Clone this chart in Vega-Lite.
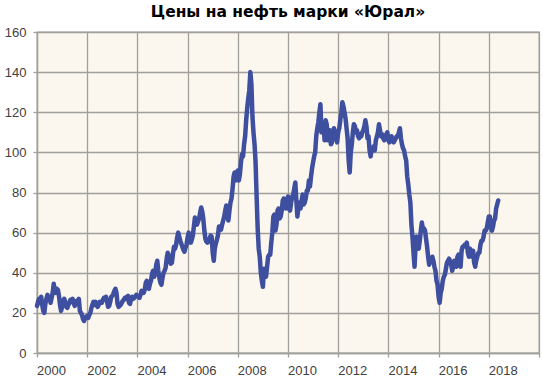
{
"$schema": "https://vega.github.io/schema/vega-lite/v6.json",
"width": 502, "height": 321,
"autosize": "none",
"padding": {"left": 37, "top": 32, "right": 4, "bottom": 30},
"background": "white",
"title": {"text": "Цены на нефть марки «Юрал»", "font": "DejaVu Sans", "fontSize": 15.5, "fontWeight": "bold", "color": "#000000", "anchor": "middle", "frame": "group", "offset": 6},
"config": {
  "view": {"fill": "#FBF6EE", "stroke": "#A0A09C", "strokeWidth": 1.3},
  "axis": {"gridColor": "#A0A09C", "gridWidth": 1.3, "gridOpacity": 1, "domainColor": "#A0A09C", "domainWidth": 1.3, "tickColor": "#A0A09C", "tickWidth": 1.3, "tickSize": 4, "labelFont": "Liberation Sans", "labelFontSize": 13, "labelColor": "#404040", "title": null}
},
"data": {"values": [
{"t":2000,"p":23.5},{"t":2000.042,"p":25.5},{"t":2000.083,"p":27},{"t":2000.125,"p":25},{"t":2000.167,"p":28},{"t":2000.208,"p":24},{"t":2000.25,"p":21},{"t":2000.292,"p":20},{"t":2000.333,"p":24.5},{"t":2000.375,"p":27},{"t":2000.417,"p":29},{"t":2000.458,"p":26.5},{"t":2000.5,"p":28},{"t":2000.542,"p":25},{"t":2000.583,"p":27.5},{"t":2000.625,"p":30},{"t":2000.667,"p":34.5},{"t":2000.708,"p":31},{"t":2000.75,"p":30},{"t":2000.792,"p":32},{"t":2000.833,"p":31.5},{"t":2000.875,"p":28.5},{"t":2000.917,"p":24},{"t":2000.958,"p":21},
{"t":2001,"p":23},{"t":2001.042,"p":26},{"t":2001.083,"p":27},{"t":2001.125,"p":25.5},{"t":2001.167,"p":23},{"t":2001.208,"p":22.5},{"t":2001.25,"p":24},{"t":2001.292,"p":25},{"t":2001.333,"p":26.5},{"t":2001.375,"p":25.5},{"t":2001.417,"p":27},{"t":2001.458,"p":25},{"t":2001.5,"p":23.5},{"t":2001.542,"p":24.5},{"t":2001.583,"p":26},{"t":2001.625,"p":24.5},{"t":2001.667,"p":27},{"t":2001.708,"p":21},{"t":2001.75,"p":20},{"t":2001.792,"p":19},{"t":2001.833,"p":17},{"t":2001.875,"p":16},{"t":2001.917,"p":17.5},{"t":2001.958,"p":18},
{"t":2002,"p":18.5},{"t":2002.042,"p":17.5},{"t":2002.083,"p":19},{"t":2002.125,"p":20},{"t":2002.167,"p":22.5},{"t":2002.208,"p":24},{"t":2002.25,"p":25.5},{"t":2002.292,"p":24},{"t":2002.333,"p":25.5},{"t":2002.375,"p":24},{"t":2002.417,"p":23},{"t":2002.458,"p":24},{"t":2002.5,"p":25.5},{"t":2002.542,"p":25},{"t":2002.583,"p":25},{"t":2002.625,"p":26.5},{"t":2002.667,"p":27.5},{"t":2002.708,"p":27},{"t":2002.75,"p":28},{"t":2002.792,"p":25.5},{"t":2002.833,"p":23},{"t":2002.875,"p":23.5},{"t":2002.917,"p":25.5},{"t":2002.958,"p":28},
{"t":2003,"p":28.5},{"t":2003.042,"p":29.5},{"t":2003.083,"p":31},{"t":2003.125,"p":32},{"t":2003.167,"p":30},{"t":2003.208,"p":24.5},{"t":2003.25,"p":23},{"t":2003.292,"p":23.5},{"t":2003.333,"p":24},{"t":2003.375,"p":25},{"t":2003.417,"p":26},{"t":2003.458,"p":26.5},{"t":2003.5,"p":27.5},{"t":2003.542,"p":27},{"t":2003.583,"p":28},{"t":2003.625,"p":28.5},{"t":2003.667,"p":25},{"t":2003.708,"p":24.5},{"t":2003.75,"p":27},{"t":2003.792,"p":28},{"t":2003.833,"p":27},{"t":2003.875,"p":27.5},{"t":2003.917,"p":28},{"t":2003.958,"p":29},
{"t":2004,"p":28.5},{"t":2004.042,"p":28},{"t":2004.083,"p":27.5},{"t":2004.125,"p":29},{"t":2004.167,"p":31},{"t":2004.208,"p":30.5},{"t":2004.25,"p":30},{"t":2004.292,"p":31.5},{"t":2004.333,"p":35},{"t":2004.375,"p":36},{"t":2004.417,"p":33},{"t":2004.458,"p":32},{"t":2004.5,"p":34.5},{"t":2004.542,"p":36},{"t":2004.583,"p":39.5},{"t":2004.625,"p":41},{"t":2004.667,"p":38},{"t":2004.708,"p":39.5},{"t":2004.75,"p":44},{"t":2004.792,"p":46},{"t":2004.833,"p":41},{"t":2004.875,"p":37.5},{"t":2004.917,"p":35},{"t":2004.958,"p":34},
{"t":2005,"p":37.5},{"t":2005.042,"p":40},{"t":2005.083,"p":41},{"t":2005.125,"p":42.5},{"t":2005.167,"p":47},{"t":2005.208,"p":50},{"t":2005.25,"p":48.5},{"t":2005.292,"p":46},{"t":2005.333,"p":44.5},{"t":2005.375,"p":45},{"t":2005.417,"p":49.5},{"t":2005.458,"p":53},{"t":2005.5,"p":52},{"t":2005.542,"p":54},{"t":2005.583,"p":57.5},{"t":2005.625,"p":60},{"t":2005.667,"p":58},{"t":2005.708,"p":56},{"t":2005.75,"p":54.5},{"t":2005.792,"p":53},{"t":2005.833,"p":51.5},{"t":2005.875,"p":50.5},{"t":2005.917,"p":52.5},{"t":2005.958,"p":54},
{"t":2006,"p":57.5},{"t":2006.042,"p":60},{"t":2006.083,"p":57},{"t":2006.125,"p":55},{"t":2006.167,"p":56.5},{"t":2006.208,"p":58.5},{"t":2006.25,"p":63},{"t":2006.292,"p":67.5},{"t":2006.333,"p":66},{"t":2006.375,"p":64},{"t":2006.417,"p":65.5},{"t":2006.458,"p":67},{"t":2006.5,"p":70},{"t":2006.542,"p":72.5},{"t":2006.583,"p":70.5},{"t":2006.625,"p":67},{"t":2006.667,"p":61},{"t":2006.708,"p":57},{"t":2006.75,"p":55.5},{"t":2006.792,"p":55},{"t":2006.833,"p":55.5},{"t":2006.875,"p":57},{"t":2006.917,"p":58.5},{"t":2006.958,"p":58},
{"t":2007,"p":50},{"t":2007.042,"p":46},{"t":2007.083,"p":52},{"t":2007.125,"p":54.5},{"t":2007.167,"p":56.5},{"t":2007.208,"p":58.5},{"t":2007.25,"p":63},{"t":2007.292,"p":62},{"t":2007.333,"p":61.5},{"t":2007.375,"p":64},{"t":2007.417,"p":66},{"t":2007.458,"p":68},{"t":2007.5,"p":71},{"t":2007.542,"p":73.5},{"t":2007.583,"p":68.5},{"t":2007.625,"p":66},{"t":2007.667,"p":71},{"t":2007.708,"p":75},{"t":2007.75,"p":77},{"t":2007.792,"p":82},{"t":2007.833,"p":88},{"t":2007.875,"p":90},{"t":2007.917,"p":86},{"t":2007.958,"p":89},
{"t":2008,"p":91},{"t":2008.042,"p":86},{"t":2008.083,"p":89},{"t":2008.125,"p":95},{"t":2008.167,"p":99},{"t":2008.208,"p":98},{"t":2008.25,"p":104},{"t":2008.292,"p":108},{"t":2008.333,"p":116},{"t":2008.375,"p":122},{"t":2008.417,"p":127},{"t":2008.458,"p":131},{"t":2008.5,"p":140},{"t":2008.542,"p":134},{"t":2008.583,"p":118},{"t":2008.625,"p":110},{"t":2008.667,"p":104},{"t":2008.708,"p":95},{"t":2008.75,"p":78},{"t":2008.792,"p":62},{"t":2008.833,"p":52},{"t":2008.875,"p":48},{"t":2008.917,"p":40},{"t":2008.958,"p":36},
{"t":2009,"p":33},{"t":2009.042,"p":42},{"t":2009.083,"p":41},{"t":2009.125,"p":38},{"t":2009.167,"p":43},{"t":2009.208,"p":48},{"t":2009.25,"p":49},{"t":2009.292,"p":49},{"t":2009.333,"p":55},{"t":2009.375,"p":60},{"t":2009.417,"p":68},{"t":2009.458,"p":69},{"t":2009.5,"p":61},{"t":2009.542,"p":64},{"t":2009.583,"p":71},{"t":2009.625,"p":72},{"t":2009.667,"p":67},{"t":2009.708,"p":68},{"t":2009.75,"p":71},{"t":2009.792,"p":76},{"t":2009.833,"p":77},{"t":2009.875,"p":76},{"t":2009.917,"p":72},{"t":2009.958,"p":75},
{"t":2010,"p":78},{"t":2010.042,"p":72},{"t":2010.083,"p":71},{"t":2010.125,"p":75},{"t":2010.167,"p":78},{"t":2010.208,"p":79},{"t":2010.25,"p":82},{"t":2010.292,"p":85},{"t":2010.333,"p":76},{"t":2010.375,"p":68},{"t":2010.417,"p":73},{"t":2010.458,"p":75},{"t":2010.5,"p":72},{"t":2010.542,"p":76},{"t":2010.583,"p":79},{"t":2010.625,"p":74},{"t":2010.667,"p":75},{"t":2010.708,"p":77},{"t":2010.75,"p":81},{"t":2010.792,"p":81},{"t":2010.833,"p":86},{"t":2010.875,"p":83},{"t":2010.917,"p":88},{"t":2010.958,"p":92},
{"t":2011,"p":95},{"t":2011.042,"p":98},{"t":2011.083,"p":100},{"t":2011.125,"p":108},{"t":2011.167,"p":112},{"t":2011.208,"p":115},{"t":2011.25,"p":120},{"t":2011.292,"p":124},{"t":2011.333,"p":110},{"t":2011.375,"p":114},{"t":2011.417,"p":113},{"t":2011.458,"p":106},{"t":2011.5,"p":116},{"t":2011.542,"p":114},{"t":2011.583,"p":106},{"t":2011.625,"p":108},{"t":2011.667,"p":111},{"t":2011.708,"p":104},{"t":2011.75,"p":105},{"t":2011.792,"p":110},{"t":2011.833,"p":112},{"t":2011.875,"p":109},{"t":2011.917,"p":107},{"t":2011.958,"p":105},
{"t":2012,"p":110},{"t":2012.042,"p":112},{"t":2012.083,"p":116},{"t":2012.125,"p":120},{"t":2012.167,"p":125},{"t":2012.208,"p":123},{"t":2012.25,"p":120},{"t":2012.292,"p":117},{"t":2012.333,"p":112},{"t":2012.375,"p":107},{"t":2012.417,"p":96},{"t":2012.458,"p":90},{"t":2012.5,"p":100},{"t":2012.542,"p":104},{"t":2012.583,"p":110},{"t":2012.625,"p":114},{"t":2012.667,"p":113},{"t":2012.708,"p":110},{"t":2012.75,"p":111},{"t":2012.792,"p":108},{"t":2012.833,"p":107},{"t":2012.875,"p":109},{"t":2012.917,"p":108},{"t":2012.958,"p":110},
{"t":2013,"p":111},{"t":2013.042,"p":113},{"t":2013.083,"p":116},{"t":2013.125,"p":113},{"t":2013.167,"p":107},{"t":2013.208,"p":108},{"t":2013.25,"p":101},{"t":2013.292,"p":98},{"t":2013.333,"p":102},{"t":2013.375,"p":101},{"t":2013.417,"p":103},{"t":2013.458,"p":101},{"t":2013.5,"p":106},{"t":2013.542,"p":108},{"t":2013.583,"p":110},{"t":2013.625,"p":114},{"t":2013.667,"p":111},{"t":2013.708,"p":108},{"t":2013.75,"p":109},{"t":2013.792,"p":107},{"t":2013.833,"p":106},{"t":2013.875,"p":108},{"t":2013.917,"p":109},{"t":2013.958,"p":110},
{"t":2014,"p":106},{"t":2014.042,"p":105},{"t":2014.083,"p":107},{"t":2014.125,"p":108},{"t":2014.167,"p":106},{"t":2014.208,"p":105},{"t":2014.25,"p":106},{"t":2014.292,"p":107},{"t":2014.333,"p":108},{"t":2014.375,"p":108},{"t":2014.417,"p":110},{"t":2014.458,"p":112},{"t":2014.5,"p":107},{"t":2014.542,"p":104},{"t":2014.583,"p":102},{"t":2014.625,"p":101},{"t":2014.667,"p":98},{"t":2014.708,"p":96},{"t":2014.75,"p":88},{"t":2014.792,"p":84},{"t":2014.833,"p":79},{"t":2014.875,"p":75},{"t":2014.917,"p":64},{"t":2014.958,"p":58},
{"t":2015,"p":50},{"t":2015.042,"p":43},{"t":2015.083,"p":54},{"t":2015.125,"p":58},{"t":2015.167,"p":56},{"t":2015.208,"p":52},{"t":2015.25,"p":56},{"t":2015.292,"p":61},{"t":2015.333,"p":65},{"t":2015.375,"p":62},{"t":2015.417,"p":62},{"t":2015.458,"p":61},{"t":2015.5,"p":57},{"t":2015.542,"p":53},{"t":2015.583,"p":48},{"t":2015.625,"p":44},{"t":2015.667,"p":47},{"t":2015.708,"p":46},{"t":2015.75,"p":48},{"t":2015.792,"p":46},{"t":2015.833,"p":43},{"t":2015.875,"p":41},{"t":2015.917,"p":36},{"t":2015.958,"p":34},
{"t":2016,"p":28},{"t":2016.042,"p":25},{"t":2016.083,"p":30},{"t":2016.125,"p":32},{"t":2016.167,"p":36},{"t":2016.208,"p":38},{"t":2016.25,"p":39},{"t":2016.292,"p":42},{"t":2016.333,"p":45},{"t":2016.375,"p":46},{"t":2016.417,"p":47},{"t":2016.458,"p":46},{"t":2016.5,"p":44},{"t":2016.542,"p":41},{"t":2016.583,"p":43},{"t":2016.625,"p":46},{"t":2016.667,"p":44},{"t":2016.708,"p":43},{"t":2016.75,"p":48},{"t":2016.792,"p":49},{"t":2016.833,"p":44},{"t":2016.875,"p":43},{"t":2016.917,"p":51},{"t":2016.958,"p":53},
{"t":2017,"p":53},{"t":2017.042,"p":54},{"t":2017.083,"p":54},{"t":2017.125,"p":55},{"t":2017.167,"p":50},{"t":2017.208,"p":48},{"t":2017.25,"p":52},{"t":2017.292,"p":51},{"t":2017.333,"p":48},{"t":2017.375,"p":51},{"t":2017.417,"p":45},{"t":2017.458,"p":43},{"t":2017.5,"p":46},{"t":2017.542,"p":48},{"t":2017.583,"p":50},{"t":2017.625,"p":50},{"t":2017.667,"p":54},{"t":2017.708,"p":56},{"t":2017.75,"p":56},{"t":2017.792,"p":58},{"t":2017.833,"p":61},{"t":2017.875,"p":61},{"t":2017.917,"p":62},{"t":2017.958,"p":65},
{"t":2018,"p":68},{"t":2018.042,"p":68},{"t":2018.083,"p":63},{"t":2018.125,"p":61},{"t":2018.167,"p":63},{"t":2018.208,"p":66},{"t":2018.25,"p":67},{"t":2018.292,"p":72},{"t":2018.333,"p":74},{"t":2018.375,"p":76}
]},
"mark": {"type": "line", "color": "#3F4FA0", "strokeWidth": 4.5, "strokeJoin": "round", "strokeCap": "round"},
"encoding": {
  "x": {"field": "t", "type": "quantitative",
        "scale": {"domain": [2000, 2020], "nice": false, "zero": false},
        "axis": {"values": [2000,2002,2004,2006,2008,2010,2012,2014,2016,2018,2020], "grid": true, "labelExpr": "datum.value >= 2019 ? '' : '' + datum.value", "labelOffset": 14, "labelPadding": 7, "labelOverlap": false, "labelBound": false, "labelFlush": false}},
  "y": {"field": "p", "type": "quantitative",
        "scale": {"domain": [0, 160], "nice": false},
        "axis": {"values": [0,20,40,60,80,100,120,140,160], "grid": true, "labelPadding": 7, "labelOverlap": false}}
}
}
